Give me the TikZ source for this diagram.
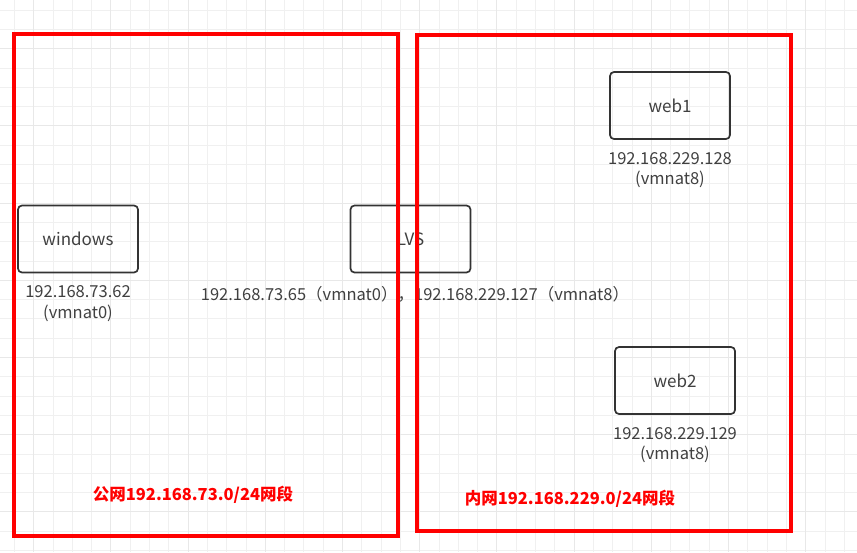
\documentclass[tikz,border=0pt]{standalone}
\usepackage{fontspec}
\setmainfont{Noto Sans CJK SC}
\usetikzlibrary{positioning}
\begin{document}
\begin{tikzpicture}[x=1pt,y=-1pt,
    host/.style={draw=black!80,line width=1.7pt,rounded corners=4pt,minimum width=120pt,minimum height=67pt,font=\fontsize{17}{19}\selectfont,text=black!75},
    addr/.style={font=\fontsize{16.5}{20.5}\selectfont,text=black!75,align=center},
    zone/.style={draw=red,line width=3.6pt},
    zonelabel/.style={font=\fontsize{16.5}{19}\selectfont\bfseries,text=red}]
    \fill[white] (0,0) rectangle (857,552);
    \useasboundingbox (0,0) rectangle (857,552);
    % grid
    \foreach \i in {0,...,43} {
        \draw[black!6,line width=0.8pt] (33.6+19.3*\i-19.3,0) -- (33.6+19.3*\i-19.3,552);
    }
    \foreach \i in {0,...,29} {
        \draw[black!6,line width=0.8pt] (0,10+19.3*\i) -- (857,10+19.3*\i);
    }
    \foreach \i in {-1,...,11} {
        \draw[black!9,line width=1pt] (33.6+77.2*\i,0) -- (33.6+77.2*\i,552);
    }
    \foreach \i in {0,...,7} {
        \draw[black!9,line width=1pt] (0,48.6+77.2*\i) -- (857,48.6+77.2*\i);
    }
    % hosts
    \node[host] (windows) at (78,239) {windows};
    \node[host] (lvs) at (410.5,239) {LVS};
    \node[host] (web1) at (670,105.5) {web1};
    \node[host] (web2) at (675,380.5) {web2};
    \node[addr,below=9pt of windows] (winaddr) {192.168.73.62\\(vmnat0)};
    \node[addr,anchor=north] (lvsaddr) at (415,283) {192.168.73.65（vmnat0），192.168.229.127（vmnat8）};
    \node[addr,below=9pt of web1] (web1addr) {192.168.229.128\\(vmnat8)};
    \node[addr,below=9pt of web2] (web2addr) {192.168.229.129\\(vmnat8)};
    % zones
    \draw[zone] (14,34) rectangle (398,536);
    \draw[zone] (417,35) rectangle (791,531);
    \node[zonelabel] (pub) at (193,495) {公网192.168.73.0/24网段};
    \node[zonelabel] (priv) at (570,499) {内网192.168.229.0/24网段};
\end{tikzpicture}
\end{document}
